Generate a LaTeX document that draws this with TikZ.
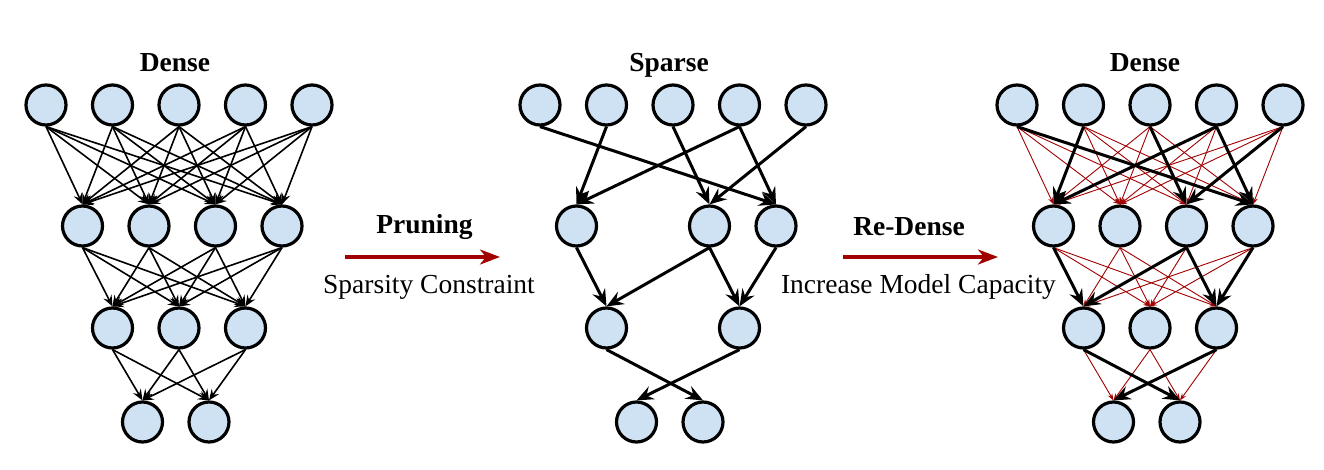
\documentclass[tikz,border=0pt]{standalone}
\usepackage{fontspec}
\setmainfont{Liberation Serif}
\usetikzlibrary{arrows.meta}
\definecolor{nodefill}{HTML}{CFE2F3}
\definecolor{arrred}{HTML}{A00000}
\begin{document}
\begin{tikzpicture}[x=1pt,y=-1pt,
  neuron/.style={circle,draw=black,fill=nodefill,line width=3.2pt,minimum size=40pt,inner sep=0pt},
  thinedge/.style={line width=1.6pt,-{Stealth[length=11pt,width=9pt,inset=4pt]}},
  thickedge/.style={line width=3pt,-{Stealth[length=17pt,width=14pt,inset=6pt]}},
  rededge/.style={draw=arrred,line width=0.9pt,-{Stealth[length=7pt,width=5pt,inset=2.5pt]}},
  titletext/.style={font=\fontsize{27.5}{33}\selectfont\bfseries,anchor=base,inner sep=0pt},
  captext/.style={font=\fontsize{27.5}{33}\selectfont,anchor=base,inner sep=0pt},
  bigarrow/.style={draw=arrred,line width=3.2pt,-{Stealth[length=20pt,width=15pt,inset=6pt]}}]
\useasboundingbox (0,0) rectangle (1324,470);

% ---------- nodes of the two full networks ----------
\foreach \net/\dx in {a/0,c/971}{
  \foreach \i in {1,...,5} \node[neuron] (\net1-\i) at ({\dx+46+66.5*(\i-1)},105) {};
  \foreach \i in {1,...,4} \node[neuron] (\net2-\i) at ({\dx+82.5+66.5*(\i-1)},226) {};
  \foreach \i in {1,...,3} \node[neuron] (\net3-\i) at ({\dx+112.5+66.5*(\i-1)},328) {};
  \foreach \i in {1,...,2} \node[neuron] (\net4-\i) at ({\dx+142.5+66.5*(\i-1)},422) {};
}

% ---------- sparse network nodes ----------
\foreach \i in {1,...,5} \node[neuron] (b1-\i) at ({494+46+66.5*(\i-1)},105) {};
\foreach \i in {1,3,4} \node[neuron] (b2-\i) at ({494+82.5+66.5*(\i-1)},226) {};
\foreach \i in {1,3} \node[neuron] (b3-\i) at ({494+112.5+66.5*(\i-1)},328) {};
\foreach \i in {1,2} \node[neuron] (b4-\i) at ({494+142.5+66.5*(\i-1)},422) {};

% ---------- titles ----------
\node[titletext] (t1) at (175,72) {Dense};
\node[titletext] (t2) at (669,72) {Sparse};
\node[titletext] (t3) at (1145,72) {Dense};

% ---------- left dense edges ----------
\foreach \i in {1,...,5} \foreach \j in {1,...,4} \draw[thinedge] (a1-\i.south) -- (a2-\j.north);
\foreach \i in {1,...,4} \foreach \j in {1,...,3} \draw[thinedge] (a2-\i.south) -- (a3-\j.north);
\foreach \i in {1,...,3} \foreach \j in {1,...,2} \draw[thinedge] (a3-\i.south) -- (a4-\j.north);

% ---------- sparse edges ----------
\foreach \i/\j in {1/4,2/1,3/3,4/1,4/4,5/3} \draw[thickedge] (b1-\i.south) -- (b2-\j.north);
\foreach \i/\j in {1/1,3/1,3/3,4/3} \draw[thickedge] (b2-\i.south) -- (b3-\j.north);
\foreach \i/\j in {1/2,3/1} \draw[thickedge] (b3-\i.south) -- (b4-\j.north);

% ---------- re-dense edges ----------
\foreach \i/\j in {1/1,1/2,1/3,2/2,2/3,2/4,3/1,3/2,3/4,4/2,4/3,5/1,5/2,5/4} \draw[rededge] (c1-\i.south) -- (c2-\j.north);
\foreach \i/\j in {1/2,1/3,2/1,2/2,2/3,3/2,4/1,4/2} \draw[rededge] (c2-\i.south) -- (c3-\j.north);
\foreach \i/\j in {1/1,2/1,2/2,3/2} \draw[rededge] (c3-\i.south) -- (c4-\j.north);
\foreach \i/\j in {1/4,2/1,3/3,4/1,4/4,5/3} \draw[thickedge] (c1-\i.south) -- (c2-\j.north);
\foreach \i/\j in {1/1,3/1,3/3,4/3} \draw[thickedge] (c2-\i.south) -- (c3-\j.north);
\foreach \i/\j in {1/2,3/1} \draw[thickedge] (c3-\i.south) -- (c4-\j.north);

% ---------- transition arrows ----------
\coordinate (p1s) at (345,257);
\coordinate (p1e) at (500,257);
\draw[bigarrow] (p1s) -- (p1e);
\node[titletext] (prun) at (424.5,234) {Pruning};
\node[captext] (spc) at (429,293) {Sparsity Constraint};

\coordinate (p2s) at (843,257);
\coordinate (p2e) at (998,257);
\draw[bigarrow] (p2s) -- (p2e);
\node[titletext] (redn) at (909,236) {Re-Dense};
\node[captext] (imc) at (918.5,293) {Increase Model Capacity};
\end{tikzpicture}
\end{document}
